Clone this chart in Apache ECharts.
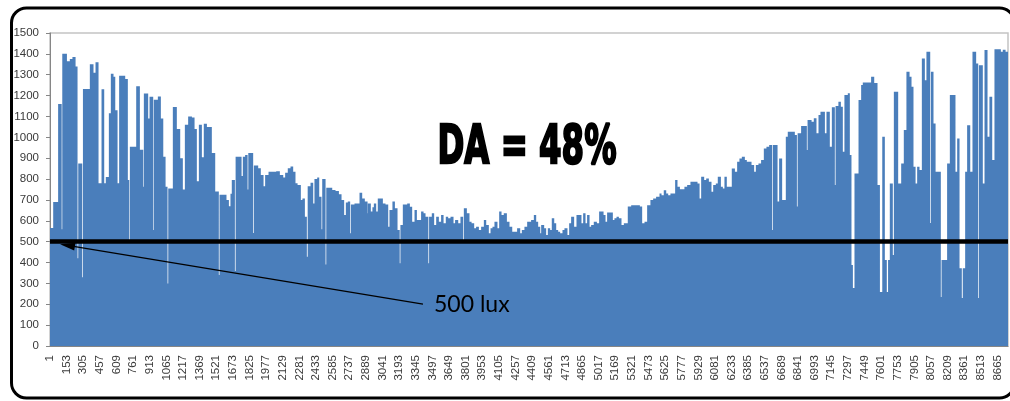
<!DOCTYPE html>
<html>
<head>
<meta charset="utf-8">
<script src="https://cdn.jsdelivr.net/npm/echarts@6/dist/echarts.min.js"></script>
<style>
  html, body { margin: 0; padding: 0; background: #ffffff; }
  #chart { width: 1010px; height: 401px; }
</style>
</head>
<body>
<div id="chart"></div>
<script>
// Hourly illuminance at the sensor point over one year (8760 hours).
const HOURS_IN_YEAR = 8760;
const LABEL_EVERY = 152;            // one axis label per 152 hours: 1, 153, 305 ...
const hourLabels = [];
for (let h = 1; h <= HOURS_IN_YEAR; h++) hourLabels.push(String(h));

const luxAxis = { min: 0, max: 1500, interval: 100 };
const thresholdLux = 500;
const daText = 'DA = 48%';
const thresholdText = '500 lux';

// Illuminance as steps: [first hour index, lux], held until the next step.
const luxSteps = [
  [0, 565], [31, 690], [76, 1160], [105, 560], [114, 1400], [153, 1365], [183, 1375], [207, 1385],
  [232, 1340], [250, 420], [260, 875], [293, 330], [303, 1232], [366, 1350], [396, 1310], [418, 1360],
  [442, 780], [473, 1230], [494, 780], [512, 810], [540, 1115], [558, 1305], [579, 1290], [595, 1130],
  [616, 780], [634, 1295], [686, 1280], [710, 795], [723, 508], [732, 955], [790, 1245], [820, 940],
  [851, 763], [860, 1210], [896, 1090], [912, 1194], [942, 556], [951, 1180], [988, 1196], [1012, 1090],
  [1034, 907], [1055, 763], [1073, 300], [1083, 755], [1125, 1145], [1158, 1040], [1189, 900], [1213, 750],
  [1235, 1060], [1265, 1100], [1296, 1095], [1320, 1040], [1341, 790], [1363, 1060], [1387, 905], [1408, 1065],
  [1433, 1050], [1478, 925], [1509, 740], [1542, 340], [1552, 725], [1612, 700], [1634, 670], [1652, 730],
  [1664, 795], [1689, 360], [1699, 907], [1750, 815], [1765, 907], [1786, 915], [1805, 750], [1815, 925],
  [1856, 542], [1866, 865], [1902, 852], [1926, 820], [1951, 766], [1969, 820], [2000, 835], [2070, 837],
  [2100, 820], [2131, 807], [2152, 830], [2176, 852], [2201, 860], [2222, 835], [2243, 780], [2262, 772],
  [2292, 700], [2310, 707], [2329, 620], [2347, 428], [2358, 765], [2384, 782], [2405, 683], [2420, 800],
  [2445, 807], [2460, 715], [2481, 560], [2491, 800], [2518, 390], [2528, 758], [2579, 748], [2609, 743],
  [2640, 727], [2664, 700], [2688, 628], [2707, 688], [2725, 692], [2743, 540], [2753, 678], [2786, 683],
  [2832, 735], [2853, 707], [2877, 692], [2902, 636], [2908, 683], [2932, 644], [2950, 665], [2963, 683],
  [2981, 644], [2999, 707], [3042, 683], [3066, 678], [3091, 572], [3106, 652], [3133, 692], [3152, 660],
  [3176, 556], [3196, 396], [3206, 580], [3228, 678], [3268, 683], [3289, 667], [3310, 596], [3335, 652],
  [3353, 604], [3395, 644], [3414, 636], [3432, 620], [3458, 396], [3468, 620], [3493, 636], [3511, 580],
  [3533, 620], [3554, 596], [3578, 628], [3597, 588], [3621, 620], [3639, 612], [3664, 620], [3688, 588],
  [3706, 604], [3731, 588], [3755, 620], [3776, 505], [3786, 660], [3810, 636], [3834, 596], [3853, 588],
  [3877, 564], [3898, 572], [3920, 556], [3944, 572], [3969, 604], [3987, 580], [4011, 540], [4030, 564],
  [4048, 572], [4066, 596], [4090, 564], [4109, 644], [4127, 628], [4151, 636], [4176, 596], [4200, 572],
  [4225, 548], [4273, 564], [4298, 540], [4316, 556], [4340, 572], [4365, 596], [4401, 604], [4426, 628],
  [4444, 596], [4462, 572], [4481, 540], [4493, 580], [4517, 564], [4535, 532], [4554, 564], [4572, 556],
  [4590, 612], [4609, 588], [4627, 556], [4645, 548], [4663, 540], [4688, 556], [4706, 564], [4730, 532],
  [4749, 588], [4767, 620], [4791, 572], [4816, 628], [4858, 588], [4877, 636], [4895, 588], [4913, 628],
  [4932, 572], [4950, 580], [4974, 596], [4999, 588], [5023, 644], [5060, 628], [5078, 596], [5096, 640],
  [5145, 604], [5163, 612], [5182, 620], [5200, 612], [5224, 580], [5249, 588], [5285, 668], [5316, 674],
  [5392, 668], [5413, 588], [5438, 596], [5462, 674], [5492, 700], [5517, 707], [5544, 715], [5575, 731],
  [5590, 723], [5614, 747], [5633, 731], [5651, 723], [5675, 731], [5718, 795], [5736, 763], [5758, 751],
  [5803, 763], [5828, 771], [5858, 787], [5919, 779], [5938, 707], [5956, 811], [5980, 795], [6002, 803],
  [6023, 787], [6047, 739], [6066, 771], [6090, 779], [6108, 811], [6133, 763], [6151, 755], [6169, 811],
  [6187, 763], [6236, 851], [6261, 835], [6285, 883], [6306, 899], [6328, 907], [6352, 891], [6370, 883],
  [6413, 867], [6437, 835], [6456, 867], [6480, 875], [6504, 891], [6529, 947], [6553, 955], [6578, 963],
  [6602, 556], [6612, 963], [6651, 692], [6669, 899], [6693, 700], [6730, 1003], [6748, 1027], [6809, 1011],
  [6828, 668], [6838, 1019], [6870, 1054], [6919, 939], [6929, 1083], [6962, 1075], [6986, 1091], [7007, 1019],
  [7029, 1107], [7047, 1123], [7084, 1019], [7102, 1123], [7129, 955], [7151, 1144], [7175, 771], [7185, 1150],
  [7211, 1171], [7230, 1147], [7248, 931], [7266, 1203], [7297, 1211], [7312, 915], [7327, 388], [7340, 278],
  [7358, 827], [7395, 1179], [7419, 1251], [7434, 1263], [7510, 1290], [7535, 1260], [7565, 771], [7587, 259],
  [7612, 1003], [7632, 412], [7650, 259], [7665, 412], [7681, 779], [7705, 436], [7718, 1218], [7754, 779],
  [7785, 875], [7809, 1035], [7833, 1314], [7858, 1290], [7876, 1242], [7894, 859], [7913, 779], [7931, 859],
  [7949, 843], [7974, 1378], [7998, 1274], [8016, 1410], [8047, 589], [8057, 1314], [8077, 1066], [8096, 835],
  [8144, 235], [8154, 412], [8205, 875], [8230, 1203], [8278, 835], [8297, 995], [8315, 373], [8336, 230],
  [8348, 373], [8370, 835], [8388, 1058], [8413, 835], [8437, 1410], [8467, 1354], [8486, 230], [8496, 1346],
  [8528, 779], [8547, 1418], [8571, 1003], [8592, 1194], [8614, 891], [8638, 1422], [8693, 1410], [8714, 1420],
  [8736, 1410]
];

// Expand the steps into one value per hour.
const hourlyLux = new Array(HOURS_IN_YEAR);
for (let i = 0; i < luxSteps.length; i++) {
  const start = luxSteps[i][0];
  const end = i + 1 < luxSteps.length ? luxSteps[i + 1][0] : HOURS_IN_YEAR;
  for (let h = start; h < end; h++) hourlyLux[h] = luxSteps[i][1];
}

// Pointer from the caption to the threshold line: [hour, lux] at each end.
const pointerFrom = [3411, 201];
const pointerTo = [160, 482];

const axisGrey = '#868686';
const labelFont = { fontFamily: '"Liberation Sans", Arial, sans-serif', fontSize: 11.5, color: '#3a3a3a' };

const chart = echarts.init(document.getElementById('chart'), null, { renderer: 'canvas' });
chart.setOption({
  animation: false,
  backgroundColor: '#ffffff',
  grid: {
    left: 50, right: 2, top: 33, bottom: 55,
    show: true, borderColor: '#c4c4c4', borderWidth: 1.5, backgroundColor: 'transparent'
  },
  xAxis: {
    type: 'category',
    data: hourLabels,
    boundaryGap: true,
    axisLine: { lineStyle: { color: axisGrey, width: 1 } },
    axisTick: { interval: LABEL_EVERY - 1, alignWithLabel: true, length: 4, lineStyle: { color: axisGrey } },
    axisLabel: Object.assign({ interval: LABEL_EVERY - 1, rotate: 90, margin: 9 }, labelFont),
    splitLine: { show: false }
  },
  yAxis: {
    type: 'value',
    min: luxAxis.min, max: luxAxis.max, interval: luxAxis.interval,
    axisLine: { show: true, lineStyle: { color: axisGrey, width: 1 } },
    axisTick: { show: true, length: 4, lineStyle: { color: axisGrey } },
    axisLabel: Object.assign({ margin: 11, formatter: function (v) { return String(v); } }, labelFont),
    splitLine: { show: false }
  },
  series: [{
    type: 'bar',
    name: 'Illuminance',
    data: hourlyLux,
    large: true,
    largeThreshold: 400,
    progressive: 0,
    barCategoryGap: '0%',
    itemStyle: { color: '#4a7ebb' },
    markLine: {
      silent: true,
      animation: false,
      symbol: ['none', 'none'],
      label: { show: false },
      data: [
        { yAxis: thresholdLux, lineStyle: { color: '#000000', width: 4.5, type: 'solid' } },
        [
          { coord: [String(pointerFrom[0]), pointerFrom[1]], symbol: 'none',
            lineStyle: { color: '#000000', width: 1.2, type: 'solid' } },
          { coord: [String(pointerTo[0]), pointerTo[1]], symbol: 'triangle', symbolSize: [8, 15] }
        ]
      ]
    }
  }],
  graphic: [
    {
      type: 'rect',
      shape: { x: 11.5, y: 8, width: 1003, height: 390, r: 15 },
      style: { fill: 'none', stroke: '#000000', lineWidth: 3 },
      silent: true, z: 100
    },
    {
      type: 'text',
      x: 527, y: 149,
      scaleX: 0.6,
      style: {
        text: daText,
        font: 'bold 54px "DejaVu Sans", sans-serif',
        textAlign: 'center', textVerticalAlign: 'middle',
        fill: '#000000', stroke: '#000000', lineWidth: 2.5
      },
      silent: true, z: 100
    },
    {
      type: 'text',
      x: 434, y: 305,
      style: {
        text: thresholdText,
        font: '23px Lato, "Open Sans", sans-serif',
        textAlign: 'left', textVerticalAlign: 'middle',
        fill: '#000000'
      },
      silent: true, z: 100
    }
  ]
});
</script>
</body>
</html>
